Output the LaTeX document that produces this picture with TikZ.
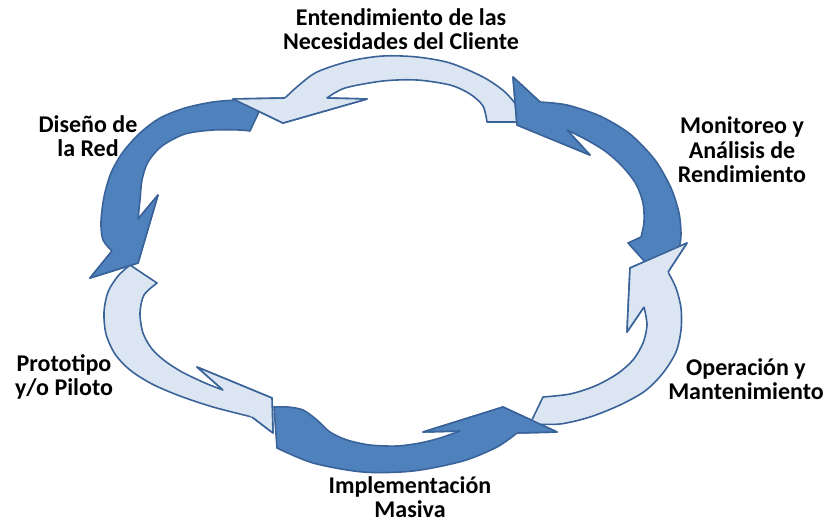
\documentclass[tikz,border=0pt]{standalone}
\usepackage{fontspec}
\setmainfont{Carlito}
\definecolor{darkblue}{HTML}{4F81BD}
\definecolor{lightblue}{HTML}{DCE6F2}
\definecolor{edgeblue}{HTML}{3A6399}
% #1 style, #2 outer edge points (tail -> SO), #3 OB, #4 tip, #5 IB, #6 inner edge points (SI -> tail)
\newcommand\ringarrow[6]{%
  \path[#1] plot[smooth] coordinates {#2} -- #3 -- #4 -- #5 -- plot[smooth] coordinates {#6} -- cycle;}
% head overlay: #1 fill colour, #2 SO, #3 OB, #4 tip, #5 IB, #6 SI
\newcommand\headcap[6]{%
  \fill[#1] #2 -- #3 -- #4 -- #5 -- #6 -- cycle;
  \draw[edgeblue, line width=1.6pt, line join=round] #2 -- #3 -- #4 -- #5 -- #6;}
\begin{document}
\begin{tikzpicture}[x=1pt,y=-1pt,
  darkarr/.style={fill=darkblue, draw=edgeblue, line width=1.6pt, line join=round},
  lightarr/.style={fill=lightblue, draw=edgeblue, line width=1.6pt, line join=round},
  lbl/.style={font=\fontsize{24}{24.5}\selectfont\bfseries, align=center, inner sep=0pt, text=black}]
\useasboundingbox (0,0) rectangle (827,523);

% A: top (light)
\ringarrow{lightarr}{(522,122) (518,108) (505,92) (483,77) (450,63) (417,57) (383,56) (350,61) (317,72) (298,86) (285,98)}{(233,99)}{(283,123)}{(367,99)}{(327,98) (345,88) (383,81) (417,80) (450,85) (470,94) (483,106) (487,122)}
% B: left (dark)
\ringarrow{darkarr}{(264,101) (240,100) (213,102) (185,108) (160,118) (140,133) (123,152) (111,173) (104,197) (101,222) (103,240) (112,251)}{(90,278)}{(138,263)}{(158,195)}{(138,219) (140,200) (142,180) (148,162) (162,146) (185,134) (213,130) (240,130) (250,131)}
% C: lower left (light)
\ringarrow{lightarr}{(130,265) (118,276) (108,292) (104,312) (106,334) (115,354) (130,370) (152,384) (180,396) (213,407) (252,417)}{(273,433)}{(272,398)}{(197,367)}{(223,390) (205,383) (182,372) (165,361) (152,349) (143,333) (140,313) (144,295) (157,283)}
% D: bottom (dark)
\ringarrow{darkarr}{(277,448) (313,463) (363,472) (413,471) (463,461) (497,447) (517,433)}{(557,432)}{(503,407)}{(423,432)}{(460,431) (440,438) (420,443) (397,446) (370,445) (347,440) (330,432) (317,420) (303,410) (288,407) (274,407)}
% E: lower right (light)
\ringarrow{lightarr}{(530,424) (560,424) (590,417) (620,405) (645,391) (663,373) (676,352) (681,330) (681,308) (676,288) (668,272)}{(687,243)}{(630,268)}{(627,332)}{(644,307) (647,325) (643,343) (633,360) (617,374) (595,386) (570,394) (543,397)}
% F: right (dark)
\path[darkarr] (646,263) -- plot[smooth] coordinates {(679,249) (681,235) (679,213) (671,188) (655,160) (630,134) (600,116) (567,105) (540,102)} -- (513,77) -- (517,125) -- (590,155) -- plot[smooth] coordinates {(567,130) (585,139) (605,151) (622,166) (636,184) (643,203) (644,222) (641,237)} -- (628,243) -- cycle;

% heads on top of the tails they cover
\headcap{lightblue}{(285,98)}{(233,99)}{(283,123)}{(367,99)}{(327,98)}
\headcap{darkblue}{(112,251)}{(90,278)}{(138,263)}{(158,195)}{(138,219)}
\headcap{lightblue}{(252,417)}{(273,433)}{(272,398)}{(197,367)}{(223,390)}
\headcap{darkblue}{(517,433)}{(557,432)}{(503,407)}{(423,432)}{(460,431)}
\headcap{lightblue}{(668,272)}{(687,243)}{(630,268)}{(627,332)}{(644,307)}
\headcap{darkblue}{(540,102)}{(513,77)}{(517,125)}{(590,155)}{(567,130)}

% labels
\node[lbl] (cliente) at (401,29) {Entendimiento de las\\Necesidades del Cliente};
\node[lbl] (monitoreo) at (742,150) {Monitoreo y\\Análisis de\\Rendimiento};
\node[lbl] (operacion) at (746,379) {Operación y\\Mantenimiento};
\node[lbl] (implementacion) at (410,497) {Implementación\\Masiva};
\node[lbl] (prototipo) at (64,377) {Prototipo\\y/o Piloto};
\node[lbl] (diseno) at (88,136) {Diseño de\\la Red};
\end{tikzpicture}
\end{document}
